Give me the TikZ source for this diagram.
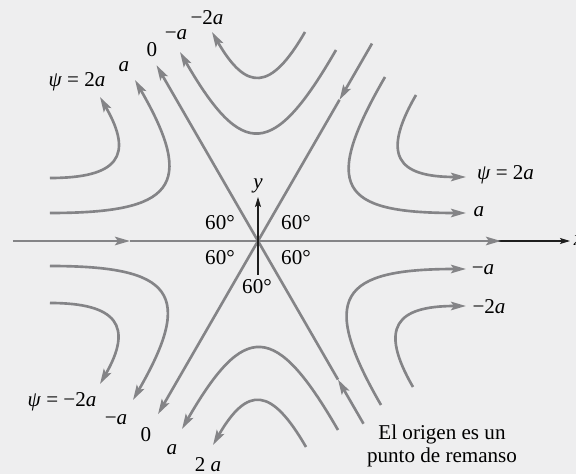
\documentclass[tikz,border=0pt]{standalone}
\usepackage{fontspec}
\setmainfont{Liberation Serif}
\usepackage{tikz}
\usetikzlibrary{arrows.meta,positioning,calc}
\definecolor{flowLine}{RGB}{132,132,135}
\definecolor{flowBack}{RGB}{238,238,239}
\definecolor{flowAxis}{RGB}{30,30,30}
\tikzset{
    stream/.style={draw=flowLine, line width=1.5pt},
    streamArrow/.style={stream, -{Stealth[length=3mm, width=1.7mm, inset=0.6mm]}},
    axisArrow/.style={draw=flowAxis, line width=0.6pt, -{Stealth[length=2mm, width=1.2mm, inset=0.4mm]}},
    % Labels
    psiLabel/.style={font=\fontsize{12}{14}\selectfont, inner sep=1pt},
    angLabel/.style={font=\fontsize{12}{14}\selectfont, inner sep=1pt},
    noteLabel/.style={font=\fontsize{12}{13}\selectfont, align=center, inner sep=1pt}
}

\begin{document}
\begin{tikzpicture}[x=0.2mm, y=0.2mm]
\fill[flowBack] (-258,-233) rectangle (318,241);
\useasboundingbox (-258,-233) rectangle (318,241);

% Axes and dividing streamlines
\coordinate (O) at (0,0);
\coordinate (xL) at (-245,0);
\coordinate (xM) at (-128,0);
\coordinate (xR) at (243,0);
\coordinate (xEnd) at (312,0);
\coordinate (yB) at (0,-34);
\coordinate (yT) at (0,44);
\coordinate (ulEnd) at (120:203);
\coordinate (urEnd) at (60:228);
\coordinate (urMid) at (60:163);
\coordinate (llEnd) at (240:200);
\coordinate (lrEnd) at (300:211);
\coordinate (lrMid) at (300:160);

\draw[axisArrow] (O) -- (xEnd);
\draw[streamArrow] (xL) -- (xM);
\draw[streamArrow] (xM) -- (xR);
\draw[streamArrow] (O) -- (ulEnd);
\draw[streamArrow] (urEnd) -- (urMid);
\draw[stream] (urMid) -- (O);
\draw[streamArrow] (O) -- (llEnd);
\draw[streamArrow] (lrEnd) -- (lrMid);
\draw[stream] (lrMid) -- (O);
\draw[axisArrow] (yB) -- (yT);

% Sector 0-60
\coordinate (aInS) at (127,164);   \coordinate (aInE) at (208,28);
\coordinate (aOutS) at (158,146);  \coordinate (aOutE) at (208,64);
\draw[streamArrow] (aInS) to[out=240, in=180, looseness=2.05] (aInE);
\draw[streamArrow] (aOutS) to[out=240, in=180, looseness=1.85] (aOutE);

% Sector 60-120
\coordinate (bInS) at (78,191);    \coordinate (bInE) at (-78,189);
\coordinate (bOutS) at (47,209);   \coordinate (bOutE) at (-46,209);
\draw[streamArrow] (bInS) to[out=240, in=300, looseness=2.05] (bInE);
\draw[streamArrow] (bOutS) to[out=240, in=300, looseness=1.9] (bOutE);

% Sector 120-180
\coordinate (cInS) at (-208,28);   \coordinate (cInE) at (-123,161);
\coordinate (cOutS) at (-208,63);  \coordinate (cOutE) at (-158,144);
\draw[streamArrow] (cInS) to[out=0, in=300, looseness=2] (cInE);
\draw[streamArrow] (cOutS) to[out=0, in=300, looseness=1.83] (cOutE);

% Sector 180-240
\coordinate (dInS) at (-208,-25);  \coordinate (dInE) at (-125,-159);
\coordinate (dOutS) at (-208,-62); \coordinate (dOutE) at (-158,-143);
\draw[streamArrow] (dInS) to[out=0, in=60, looseness=2] (dInE);
\draw[streamArrow] (dOutS) to[out=0, in=60, looseness=1.8] (dOutE);

% Sector 240-300
\coordinate (eInS) at (80,-189);   \coordinate (eInE) at (-76,-188);
\coordinate (eOutS) at (48,-206);  \coordinate (eOutE) at (-45,-204);
\draw[streamArrow] (eInS) to[out=120, in=60, looseness=2.05] (eInE);
\draw[streamArrow] (eOutS) to[out=120, in=60, looseness=1.9] (eOutE);

% Sector 300-360
\coordinate (fInS) at (123,-164);  \coordinate (fInE) at (208,-28);
\coordinate (fOutS) at (155,-146); \coordinate (fOutE) at (208,-65);
\draw[streamArrow] (fInS) to[out=120, in=180, looseness=2] (fInE);
\draw[streamArrow] (fOutS) to[out=120, in=180, looseness=1.84] (fOutE);

% Stream function values
\node[psiLabel] (ulTwo) at (-181,159) {\textit{ψ} = 2\textit{a}};
\node[psiLabel] (ulOne) at (-134,174) {\textit{a}};
\node[psiLabel] (ulZero) at (-106,191) {0};
\node[psiLabel] (upMinOne) at (-82,206) {−\textit{a}};
\node[psiLabel] (upMinTwo) at (-51,223) {−2\textit{a}};
\node[psiLabel, anchor=west] (rTwo) at (217,66) {\textit{ψ} = 2\textit{a}};
\node[psiLabel] (rOne) at (221,29) {\textit{a}};
\node[psiLabel] (rMinOne) at (225,-29) {−\textit{a}};
\node[psiLabel] (rMinTwo) at (231,-66) {−2\textit{a}};
\node[psiLabel] (llMinTwo) at (-196,-161) {\textit{ψ} = −2\textit{a}};
\node[psiLabel] (llMinOne) at (-142,-179) {−\textit{a}};
\node[psiLabel] (llZero) at (-112,-194) {0};
\node[psiLabel] (lowOne) at (-86,-209) {\textit{a}};
\node[psiLabel] (lowTwo) at (-50,-224) {2 \textit{a}};

% Angles and axes
\node[angLabel] (angUL) at (-38,18) {60°};
\node[angLabel] (angUR) at (38,18) {60°};
\node[angLabel] (angLL) at (-38,-17) {60°};
\node[angLabel] (angLR) at (38,-17) {60°};
\node[angLabel] (angB) at (-1,-46) {60°};
\node[psiLabel, above=1pt of yT] (yLbl) {\textit{y}};
\node[psiLabel, right=1pt of xEnd] (xLbl) {\textit{x}};

\node[noteLabel] (note) at (184,-205) {El origen es un\\punto de remanso};
\end{tikzpicture}
\end{document}
